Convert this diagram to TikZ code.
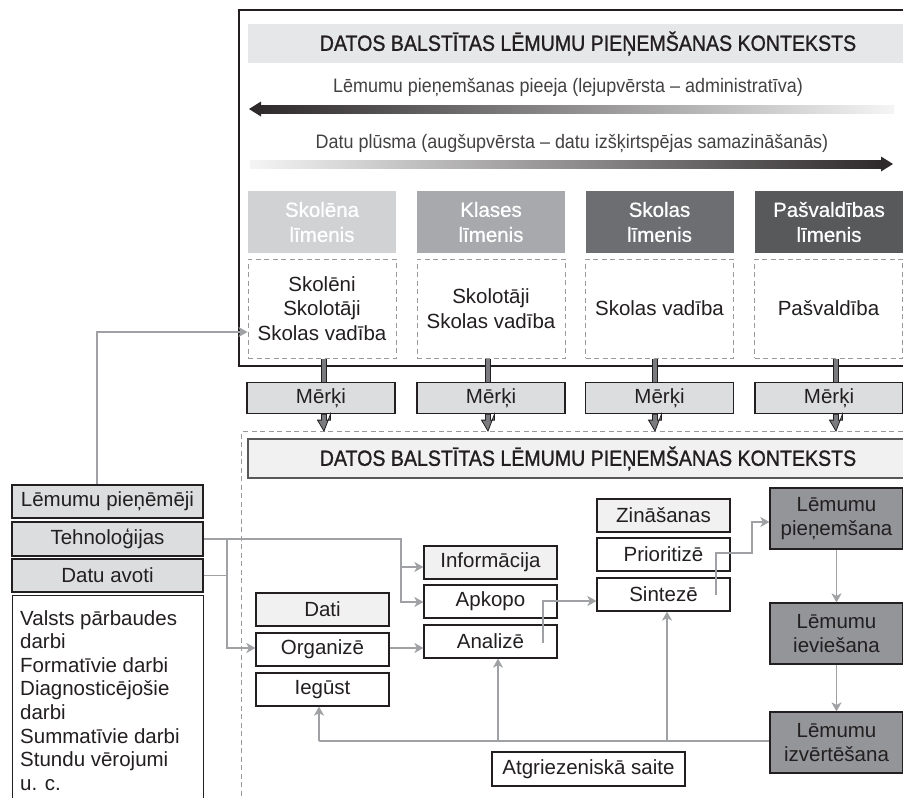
\documentclass[tikz,border=0pt]{standalone}
\usepackage{fontspec}
\setmainfont{Liberation Sans}
\newfontfamily\medfont{Liberation Sans}[FakeBold=0.7]
\newfontfamily\titlefont{Liberation Sans}[FakeStretch=0.89, FakeBold=1.1]
\newfontfamily\condfont{Liberation Sans}[FakeStretch=0.92]
\usetikzlibrary{arrows.meta}
\definecolor{lvA}{HTML}{D1D2D4}
\definecolor{lvB}{HTML}{A7A9AC}
\definecolor{lvC}{HTML}{6D6E71}
\definecolor{lvD}{HTML}{58595B}
\definecolor{band}{HTML}{E6E7E8}
\definecolor{boxgray}{HTML}{DCDDDE}
\definecolor{paleBox}{HTML}{F1F1F2}
\definecolor{decision}{HTML}{939598}
\definecolor{connc}{HTML}{9FA1A4}
\definecolor{ink}{HTML}{231F20}
\definecolor{dashc}{HTML}{9A9A9A}
\definecolor{barfill}{HTML}{7A7B7E}
\tikzset{
  txt/.style={font=\fontsize{20.5}{24.5}\selectfont, text=ink, align=center, inner sep=0pt},
  bx/.style={txt, draw=ink, line width=1.2pt, fill=white},
  graybx/.style={bx, fill=boxgray},
  palebx/.style={bx, fill=paleBox},
  decbx/.style={bx, fill=decision},
  lvl/.style={txt, text=white, minimum width=148, minimum height=62, font=\medfont\fontsize{20.5}{25}\selectfont},
  dbx/.style={txt, draw=dashc, line width=1pt, dash pattern=on 5pt off 3.5pt, minimum width=148, minimum height=99},
  mbx/.style={graybx, minimum width=148, minimum height=31},
  wide/.style={minimum width=191},
  mid/.style={minimum width=133, minimum height=33},
  conn/.style={draw=connc, line width=1.5pt, -{Stealth[length=9pt,width=10pt,inset=2.5pt]}},
  connline/.style={draw=connc, line width=1.5pt},
  fatbar/.style={draw=ink, line width=0.8pt, double=barfill, double distance=4pt},
  fathead/.style={fill=barfill, draw=ink, line width=0.8pt, line join=miter},
  arrlabel/.style={font=\condfont\fontsize{19.5}{21}\selectfont, text=ink!85, inner sep=0pt},
  titletxt/.style={txt, minimum width=680, minimum height=39, font=\titlefont\fontsize{22}{24}\selectfont},
}
\begin{document}
\begin{tikzpicture}[x=1pt,y=-1pt]
\clip (0,0) rectangle (903,798);
\fill[white] (0,0) rectangle (903,798);

% upper frame
\draw[draw=ink, line width=1.4pt] (239,10) rectangle (915,366);
\node[titletxt, fill=band] (band1) at (588,43.5) {DATOS BALSTĪTAS LĒMUMU PIEŅEMŠANAS KONTEKSTS};

% gradient arrows
\node[arrlabel] (lab1) at (568,87) {Lēmumu pieņemšanas pieeja (lejupvērsta – administratīva)};
\shade[left color=ink!95, right color=white!96!black] (260,105) rectangle (894,113);
\fill[ink!95] (249,109) -- (261,101.5) -- (261,116.5) -- cycle;
\node[arrlabel] (lab2) at (572,143) {Datu plūsma (augšupvērsta – datu izšķirtspējas samazināšanās)};
\shade[left color=white!96!black, right color=ink!95] (250,160) rectangle (882,168);
\fill[ink!95] (893,164) -- (881,156.5) -- (881,171.5) -- cycle;

% level headers
\node[lvl, fill=lvA] (h1) at (322,222) {Skolēna\\līmenis};
\node[lvl, fill=lvB] (h2) at (491,222) {Klases\\līmenis};
\node[lvl, fill=lvC] (h3) at (659.5,222) {Skolas\\līmenis};
\node[lvl, fill=lvD] (h4) at (829,222) {Pašvaldības\\līmenis};

% dashed actor boxes
\node[dbx] (d1) at (322,308.5) {Skolēni\\Skolotāji\\Skolas vadība};
\node[dbx] (d2) at (491,308.5) {Skolotāji\\Skolas vadība};
\node[dbx] (d3) at (659.5,308.5) {Skolas vadība};
\node[dbx] (d4) at (828.5,308.5) {Pašvaldība};

% goals
\node[mbx] (m1) at (321,398) {Mērķi};
\node[mbx] (m2) at (491,398) {Mērķi};
\node[mbx] (m3) at (659.5,398) {Mērķi};
\node[mbx] (m4) at (829,398) {Mērķi};

% lower context frame
\node[draw=dashc, line width=1pt, dash pattern=on 5pt off 3.5pt, minimum width=700, minimum height=400, anchor=north west, inner sep=0pt] (ctx2) at (241,431) {};
\node[titletxt, draw=ink!75, line width=1.2pt, fill=paleBox] (band2) at (588,458.5) {DATOS BALSTĪTAS LĒMUMU PIEŅEMŠANAS KONTEKSTS};

% fat arrows from actor boxes through goals
\foreach \i/\x in {1/324,2/488,3/655,4/836}{
  \draw[fatbar] (\x,0 |- d\i.south) -- (\x,0 |- m\i.north);
  \path[fathead] (\x-2.5,0 |- m\i.south) -- ++(0,6) -- ++(-4,0) -- (\x,431) -- (\x+6.5,0 |- m\i.south) -- ++(0,6) -- ++(-4,0) -- ++(0,-6) -- cycle;
}

% left column
\node[graybx, wide, minimum height=33] (lp) at (107.5,501.5) {Lēmumu pieņēmēji};
\node[graybx, wide, minimum height=34] (tech) at (107.5,539) {Tehnoloģijas};
\node[graybx, wide, minimum height=33] (avoti) at (107.5,575.5) {Datu avoti};
\node[bx, wide, minimum height=230, anchor=north west] (listbox) at (12,595) {};
\node[txt, align=left, anchor=north west, font=\fontsize{20.5}{23.6}\selectfont] (listtext) at (20,610) {Valsts pārbaudes\\darbi\\Formatīvie darbi\\Diagnosticējošie\\darbi\\Summatīvie darbi\\Stundu vērojumi\\u. c.};

% process boxes
\node[palebx, mid] (dati) at (322.5,609.5) {Dati};
\node[bx, mid] (org) at (322.5,649.5) {Organizē};
\node[bx, mid] (ieg) at (322.5,689.5) {Iegūst};
\node[palebx, mid] (info) at (490.5,562.5) {Informācija};
\node[bx, mid] (apk) at (490.5,601.5) {Apkopo};
\node[bx, mid] (ana) at (490.5,641.5) {Analizē};
\node[palebx, mid] (zin) at (663.5,515.5) {Zināšanas};
\node[bx, mid] (prio) at (663.5,554.5) {Prioritizē};
\node[bx, mid] (sint) at (663.5,594.5) {Sintezē};
\node[decbx, minimum width=133, minimum height=61] (lpie) at (836.5,518.5) {Lēmumu\\pieņemšana};
\node[decbx, minimum width=133, minimum height=61] (liev) at (836.5,633.5) {Lēmumu\\ieviešana};
\node[decbx, minimum width=133, minimum height=61] (lizv) at (836.5,742.5) {Lēmumu\\izvērtēšana};
\node[bx, minimum width=193, minimum height=34] (atg) at (588.5,769) {Atgriezeniskā saite};

% connectors
\draw[conn] (97,0 |- lp.north) |- (d1.west |- 0,332);
\draw[conn] (tech.east) -- (401,539) -- (401,602) -- (apk.west |- 0,602);
\draw[conn] (401,567) -- (info.west |- 0,567);
\draw[conn] (227,539) -- (227,648) -- (org.west |- 0,648);
\draw[connline] (avoti.east) -- (227,0 |- avoti.east);
\draw[conn] (org.east |- 0,648) -- (ana.west |- 0,648);
\draw[conn] (543,643) -- (543,601) -- (sint.west |- 0,601);
\draw[conn] (716,595) -- (716,553) -- (752,553) -- (752,522) -- (lpie.west |- 0,522);
\draw[conn] (lpie.south) -- (liev.north);
\draw[conn] (liev.south) -- (lizv.north);
\draw[connline] (lizv.west |- 0,741) -- (319,741);
\draw[conn] (319,741) -- (319,0 |- ieg.south);
\draw[conn] (498,741) -- (498,0 |- ana.south);
\draw[conn] (667,741) -- (667,0 |- sint.south);
\end{tikzpicture}
\end{document}
